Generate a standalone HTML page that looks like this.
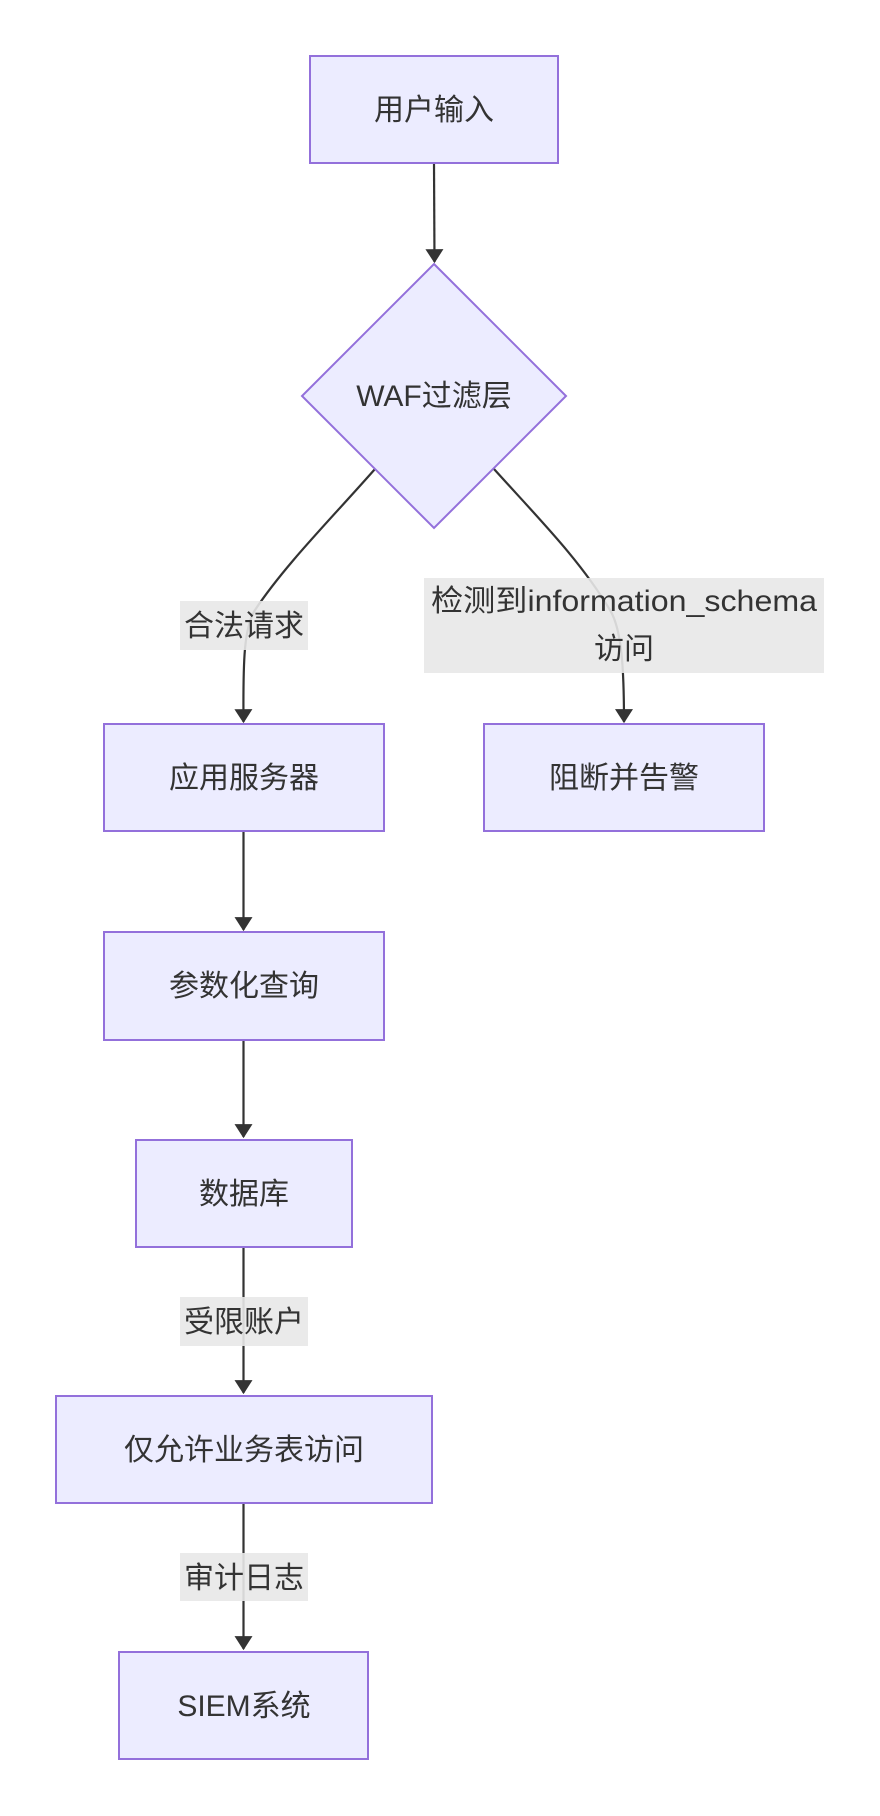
<!DOCTYPE html>
<html><head><meta charset="utf-8"><style>
html,body{margin:0;padding:0;background:#fff;}
svg{display:block}
text{font-family:"Liberation Sans","Noto Sans CJK SC",sans-serif;font-size:30px;fill:#333;}
.n{fill:#ECECFF;stroke:#9370DB;stroke-width:2;}
.e{fill:none;stroke:#333;stroke-width:2.2;}
.lb{fill:#e8e8e8;opacity:0.9}
</style></head><body>
<svg width="880" height="1816" viewBox="0 0 880 1816" xmlns="http://www.w3.org/2000/svg">
<defs><marker id="a" viewBox="0 0 10 10" refX="9" refY="5" markerWidth="8" markerHeight="8" orient="auto" markerUnits="userSpaceOnUse"><path d="M0,0L10,5L0,10z" fill="#333"/></marker>
<marker id="b" viewBox="0 0 12 12" refX="11" refY="6" markerWidth="14" markerHeight="18" orient="auto" markerUnits="userSpaceOnUse" preserveAspectRatio="none"><path d="M0,0L12,6L0,12z" fill="#333"/></marker></defs>

<!-- edges -->
<path class="e" d="M434,164 L434.5,262" marker-end="url(#b)"/>
<path class="e" d="M375,469 C330,520 285,565 255,610 C244,628 243,660 243.5,722" marker-end="url(#b)"/>
<path class="e" d="M494,469 C540,520 580,560 610,610 C622,630 624,670 624,722" marker-end="url(#b)"/>
<path class="e" d="M243.5,831 L243.5,930" marker-end="url(#b)"/>
<path class="e" d="M243.5,1040 L243.5,1137" marker-end="url(#b)"/>
<path class="e" d="M243.5,1247 L243.5,1393" marker-end="url(#b)"/>
<path class="e" d="M243.5,1503 L243.5,1649" marker-end="url(#b)"/>

<!-- nodes -->
<rect class="n" x="310" y="56" width="248" height="107"/>
<text x="434" y="120" text-anchor="middle">用户输入</text>
<polygon class="n" points="434,264 566,396 434,528 302,396"/>
<text x="434" y="406" text-anchor="middle">WAF过滤层</text>
<rect class="n" x="104" y="724" width="280" height="107"/>
<text x="244" y="788" text-anchor="middle">应用服务器</text>
<rect class="n" x="484" y="724" width="280" height="107"/>
<text x="624" y="788" text-anchor="middle">阻断并告警</text>
<rect class="n" x="104" y="932" width="280" height="108"/>
<text x="244" y="996" text-anchor="middle">参数化查询</text>
<rect class="n" x="136" y="1140" width="216" height="107"/>
<text x="244" y="1204" text-anchor="middle">数据库</text>
<rect class="n" x="56" y="1396" width="376" height="107"/>
<text x="244" y="1460" text-anchor="middle">仅允许业务表访问</text>
<rect class="n" x="119" y="1652" width="249" height="107"/>
<text x="244" y="1716" text-anchor="middle">SIEM系统</text>

<!-- labels -->
<rect class="lb" x="180" y="601" width="128" height="49"/>
<text x="244" y="636" text-anchor="middle">合法请求</text>
<rect class="lb" x="424" y="578" width="400" height="95"/>
<text x="624" y="611" text-anchor="middle" textLength="386" lengthAdjust="spacingAndGlyphs">检测到information_schema</text>
<text x="624" y="659" text-anchor="middle">访问</text>
<rect class="lb" x="180" y="1297" width="128" height="49"/>
<text x="244" y="1332" text-anchor="middle">受限账户</text>
<rect class="lb" x="180" y="1553" width="128" height="48"/>
<text x="244" y="1588" text-anchor="middle">审计日志</text>
</svg>
</body></html>
